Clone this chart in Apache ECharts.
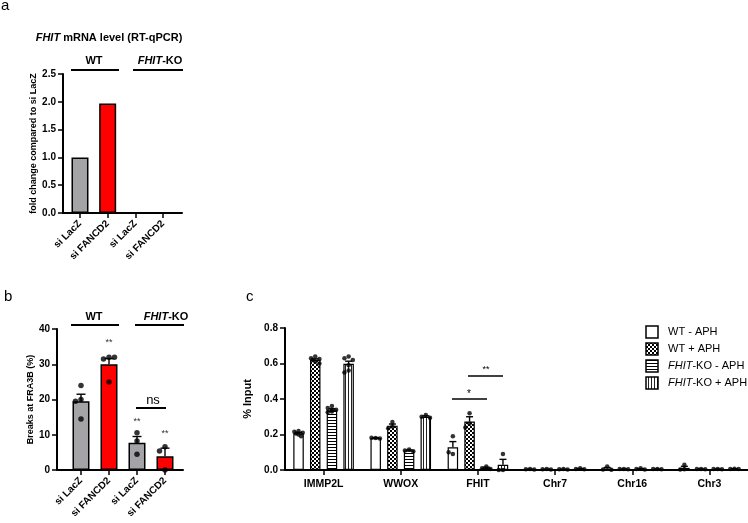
<!DOCTYPE html>
<html><head><meta charset="utf-8">
<script src="https://cdn.jsdelivr.net/npm/echarts@6/dist/echarts.min.js"></script>
<style>html,body{margin:0;padding:0;background:#fff}#c{width:748px;height:523px}</style>
</head><body><div id="c"></div>
<script>
// ---------------- DATA ----------------
const abCategories = ['si LacZ', 'si FANCD2', 'si LacZ', 'si FANCD2'];
const aFoldChange = [1.0, 1.97, 0, 0];
const aYTicks = [0, 0.5, 1.0, 1.5, 2.0, 2.5];

const bBreaksMean = [19.5, 30.0, 7.7, 3.9];
const bBreaksSEM = [2.0, 1.6, 1.8, 2.3];
const bBreaksReplicates = [[24, 20, 19.5, 14.5], [32, 31.5, 32, 25], [10.6, 8.2, 4.5], [6.6, 5.4, 0]];
const bYTicks = [0, 10, 20, 30, 40];

const cCategories = ['IMMP2L', 'WWOX', 'FHIT', 'Chr7', 'Chr16', 'Chr3'];
const cSeriesNames = ['WT - APH', 'WT + APH', 'FHIT-KO - APH', 'FHIT-KO + APH'];
const cWtNoAph = [0.207, 0.18, 0.128, 0.004, 0.008, 0.012];
const cWtAph = [0.621, 0.25, 0.273, 0.004, 0.005, 0.005];
const cKoNoAph = [0.34, 0.11, 0.012, 0.004, 0.006, 0.005];
const cKoAph = [0.598, 0.30, 0.03, 0.006, 0.005, 0.006];
const cWtNoAphSEM = [0.005, 0.002, 0.032, 0.001, 0.006, 0.009];
const cWtAphSEM = [0.005, 0.009, 0.027, 0.001, 0.001, 0.001];
const cKoNoAphSEM = [0.005, 0.003, 0.004, 0.001, 0.002, 0.001];
const cKoAphSEM = [0.015, 0.005, 0.03, 0.002, 0.001, 0.001];
const cWtNoAphReps = [[0.22, 0.215, 0.21, 0.205, 0.2, 0.19], [0.18, 0.182, 0.178], [0.19, 0.09, 0.1], [0.005, 0.004, 0.003], [0.02, 0.003, 0.002], [0.03, 0.004, 0.003]];
const cWtAphReps = [[0.64, 0.63, 0.625, 0.62, 0.61, 0.6], [0.27, 0.245, 0.235], [0.32, 0.26, 0.24], [0.005, 0.004, 0.003], [0.006, 0.005, 0.004], [0.006, 0.005, 0.004]];
const cKoNoAphReps = [[0.36, 0.35, 0.34, 0.335, 0.33, 0.325], [0.115, 0.11, 0.105], [0.02, 0.01, 0.006], [0.005, 0.004, 0.003], [0.01, 0.005, 0.003], [0.006, 0.005, 0.004]];
const cKoAphReps = [[0.64, 0.63, 0.62, 0.59, 0.56, 0.55], [0.31, 0.3, 0.295], [0.09, 0.0, 0.0], [0.01, 0.005, 0.004], [0.006, 0.005, 0.004], [0.007, 0.006, 0.005]];
const cYTicks = [0, 0.2, 0.4, 0.6, 0.8];

// ---------------- STYLE / LAYOUT ----------------
const FONT = 'Arial, "Liberation Sans", Helvetica, sans-serif';
const GRAY = '#a3a3a8', RED = '#ff0000';
const abColors = [GRAY, RED, GRAY, RED];

function pattern(kind) {
  const c = document.createElement('canvas');
  const ctx = c.getContext('2d');
  if (kind === 'check') {
    c.width = 4; c.height = 4;
    ctx.fillStyle = '#fff'; ctx.fillRect(0, 0, 4, 4);
    ctx.fillStyle = '#000'; ctx.fillRect(0, 0, 2, 2); ctx.fillRect(2, 2, 2, 2);
  } else if (kind === 'h') {
    c.width = 3; c.height = 3;
    ctx.fillStyle = '#fff'; ctx.fillRect(0, 0, 3, 3);
    ctx.fillStyle = '#000'; ctx.fillRect(0, 0, 3, 1);
  } else if (kind === 'v') {
    c.width = 3; c.height = 3;
    ctx.fillStyle = '#fff'; ctx.fillRect(0, 0, 3, 3);
    ctx.fillStyle = '#222'; ctx.fillRect(0, 0, 1, 3);
  } else {
    c.width = 2; c.height = 2;
    ctx.fillStyle = '#fff'; ctx.fillRect(0, 0, 2, 2);
  }
  return { image: c, repeat: 'repeat' };
}
const cFills = [pattern('plain'), pattern('check'), pattern('h'), pattern('v')];

// beeswarm-like horizontal spreading of replicate dots (pixel offsets)
function swarm(vals, pxPerUnit, d, maxSteps) {
  const placed = [];
  return vals.map((v, i) => {
    const y = v * pxPerUnit;
    for (let k = 0; k <= maxSteps * 2; k++) {
      const dx = k === 0 ? 0 : (k % 2 ? -1 : 1) * Math.ceil(k / 2) * d;
      if (placed.every(p => Math.hypot(p.x - dx, p.y - y) >= d * 0.95)) {
        placed.push({ x: dx, y }); return dx;
      }
    }
    const dx = ((i % 3) - 1) * d * 0.6;
    placed.push({ x: dx, y }); return dx;
  });
}

const axisLineStyle = { color: '#000', width: 2 };
const tickStyle = { color: '#000', width: 1.5 };
const tickLabel = { color: '#000', fontFamily: FONT, fontWeight: 'bold', fontSize: 10 };

const grids = [
  { left: 63, top: 74, width: 119, height: 139 },   // a
  { left: 57, top: 329, width: 126, height: 141 },  // b
  { left: 285, top: 328, width: 465, height: 142 }  // c
];

function errRender(offsetPx, cap) {
  return function (params, api) {
    const x = api.value(0), m = api.value(1), s = api.value(2);
    const p0 = api.coord([x, m]), p1 = api.coord([x, m + s]);
    const cx = p0[0] + offsetPx;
    const st = { stroke: '#000', lineWidth: 1.4 };
    return {
      type: 'group', children: [
        { type: 'line', shape: { x1: cx, y1: p0[1], x2: cx, y2: p1[1] }, style: st },
        { type: 'line', shape: { x1: cx - cap, y1: p1[1], x2: cx + cap, y2: p1[1] }, style: st }
      ]
    };
  };
}

const series = [];

// Panel a bars
series.push({
  type: 'bar', xAxisIndex: 0, yAxisIndex: 0, barWidth: 17,
  data: aFoldChange.map((v, i) => ({ value: [i, v], itemStyle: { color: abColors[i] } })),
  itemStyle: { borderColor: '#000', borderWidth: 1.5 }, silent: true
});

// Panel b bars, error bars, dots
series.push({
  type: 'bar', xAxisIndex: 1, yAxisIndex: 1, barWidth: 17, z: 2,
  data: bBreaksMean.map((v, i) => ({ value: [i, v], itemStyle: { color: abColors[i] } })),
  itemStyle: { borderColor: '#000', borderWidth: 1.5 }, silent: true
});
series.push({
  type: 'custom', xAxisIndex: 1, yAxisIndex: 1, z: 3, silent: true,
  renderItem: errRender(0, 4.5), encode: { x: 0, y: 1 },
  data: bBreaksMean.map((m, i) => [i, m, bBreaksSEM[i]])
});
{
  const ppu = 141 / 40;
  const dots = [];
  bBreaksReplicates.forEach((reps, i) => {
    const offs = swarm(reps, ppu, 5.5, 1);
    reps.forEach((v, j) => dots.push({ value: [i, v], symbolOffset: [offs[j], 0] }));
  });
  series.push({
    type: 'scatter', xAxisIndex: 1, yAxisIndex: 1, z: 4, silent: true,
    symbol: 'circle', symbolSize: 5.5, itemStyle: { color: '#000' }, data: dots
  });
}

// Panel c
const cMeans = [cWtNoAph, cWtAph, cKoNoAph, cKoAph];
const cSEMs = [cWtNoAphSEM, cWtAphSEM, cKoNoAphSEM, cKoAphSEM];
const cReps = [cWtNoAphReps, cWtAphReps, cKoNoAphReps, cKoAphReps];
const cBarW = 10.5, cGap = 6.2;
cMeans.forEach((arr, s) => {
  series.push({
    type: 'bar', name: cSeriesNames[s], xAxisIndex: 2, yAxisIndex: 2, z: 2, silent: true,
    barWidth: cBarW, barGap: (cGap / cBarW * 100).toFixed(0) + '%',
    itemStyle: { color: cFills[s], borderColor: '#000', borderWidth: 1.2 },
    data: arr
  });
});
cMeans.forEach((arr, s) => {
  const off = (s - 1.5) * (cBarW + cGap);
  series.push({
    type: 'custom', xAxisIndex: 2, yAxisIndex: 2, z: 3, silent: true,
    renderItem: errRender(off, 3.5), encode: { x: 0, y: 1 },
    data: arr.map((m, i) => [i, m, cSEMs[s][i]])
  });
  const ppu = 142 / 0.8;
  const dots = [];
  cReps[s].forEach((reps, i) => {
    const offs = swarm(reps, ppu, 4.2, 1);
    reps.forEach((v, j) => dots.push({ value: [i, v], symbolOffset: [off + offs[j], 0] }));
  });
  series.push({
    type: 'scatter', xAxisIndex: 2, yAxisIndex: 2, z: 4, silent: true,
    symbol: 'circle', symbolSize: 4.5, itemStyle: { color: '#000' }, data: dots
  });
});

// ---------------- GRAPHICS (headers, annotations, legend) ----------------
const g = [];
function txt(x, y, text, opt) {
  g.push(Object.assign({
    type: 'text', x, y, silent: true,
    style: Object.assign({ text, fill: '#000', font: 'bold 11px ' + FONT, align: 'center', verticalAlign: 'middle' }, opt || {})
  }));
}
function rich(x, y, text, size, weight, align) {
  g.push({
    type: 'text', x, y, silent: true,
    style: {
      text, fill: '#000', align: align || 'center', verticalAlign: 'middle',
      font: weight + ' ' + size + 'px ' + FONT,
      rich: { i: { fontStyle: 'italic', fontWeight: weight, fontSize: size, fontFamily: FONT, fill: '#000' },
              n: { fontWeight: weight, fontSize: size, fontFamily: FONT, fill: '#000' } }
    }
  });
}
function hline(x1, x2, y, w) {
  g.push({ type: 'line', silent: true, shape: { x1, y1: y, x2, y2: y }, style: { stroke: '#000', lineWidth: w || 2 } });
}
// panel letters
txt(1, 13, 'a', { font: '15px ' + FONT, align: 'left', verticalAlign: 'bottom' });
txt(4, 304, 'b', { font: '15px ' + FONT, align: 'left', verticalAlign: 'bottom' });
txt(246, 304, 'c', { font: '15px ' + FONT, align: 'left', verticalAlign: 'bottom' });
// panel a title + headers
rich(109, 38, '{i|FHIT}{n| mRNA level (RT-qPCR)}', 11, 'bold');
txt(94, 61, 'WT');
hline(71, 119, 70);
rich(160, 61, '{i|FHIT}{n|-KO}', 11, 'bold');
hline(133, 183, 70);
// panel b headers + annotations
txt(94, 317, 'WT');
hline(71, 119, 325);
rich(166, 317, '{i|FHIT}{n|-KO}', 11, 'bold');
hline(135, 184, 325);
txt(153, 400, 'ns', { font: '13px ' + FONT });
hline(136, 166, 408);
txt(109, 343, '**', { font: '9px ' + FONT, fill: '#333' });
txt(137, 422, '**', { font: '9px ' + FONT, fill: '#333' });
txt(165, 434, '**', { font: '9px ' + FONT, fill: '#333' });
// panel c significance
txt(469, 394, '*', { font: '10px ' + FONT });
hline(452, 487, 399, 1.5);
txt(486, 370, '**', { font: '9px ' + FONT });
hline(468, 503, 376, 1.5);
// legend
const legY = [332, 349, 366, 383];
cSeriesNames.forEach((name, s) => {
  g.push({ type: 'rect', silent: true, shape: { x: 646, y: legY[s] - 6, width: 12, height: 12 },
           style: { fill: cFills[s], stroke: '#000', lineWidth: 1.5 } });
  const t = name.startsWith('FHIT') ? '{i|FHIT}{n|' + name.slice(4) + '}' : '{n|' + name + '}';
  rich(668, legY[s], t, 11, 'normal', 'left');
});

// ---------------- OPTION ----------------
const option = {
  animation: false,
  backgroundColor: '#fff',
  grid: grids,
  xAxis: [
    { gridIndex: 0, type: 'value', min: -0.614, max: 3.686,
      axisLine: { show: true, onZero: false, lineStyle: axisLineStyle }, splitLine: { show: false },
      axisTick: { show: true, length: 5, lineStyle: tickStyle, customValues: [0, 1, 2, 3] },
      axisLabel: Object.assign({ rotate: 45, margin: 9, customValues: [0, 1, 2, 3], formatter: v => abCategories[Math.round(v)] }, tickLabel) },
    { gridIndex: 1, type: 'value', min: -0.857, max: 3.643,
      axisLine: { show: true, onZero: false, lineStyle: axisLineStyle }, splitLine: { show: false },
      axisTick: { show: true, length: 5, lineStyle: tickStyle, customValues: [0, 1, 2, 3] },
      axisLabel: Object.assign({ rotate: 45, margin: 9, customValues: [0, 1, 2, 3], formatter: v => abCategories[Math.round(v)] }, tickLabel) },
    { gridIndex: 2, type: 'category', data: cCategories,
      axisLine: { show: true, lineStyle: axisLineStyle },
      axisTick: { show: true, length: 5, alignWithLabel: true, lineStyle: tickStyle },
      axisLabel: Object.assign({ margin: 9 }, tickLabel, { fontSize: 10.5 }) }
  ],
  yAxis: [
    { gridIndex: 0, type: 'value', min: 0, max: 2.5, interval: 0.5,
      name: 'fold change compared to si LacZ', nameLocation: 'middle', nameGap: 25,
      nameTextStyle: { fontFamily: FONT, fontWeight: 'bold', fontSize: 9, color: '#000' },
      axisLine: { show: true, onZero: false, lineStyle: axisLineStyle }, splitLine: { show: false },
      axisTick: { show: true, length: 5, lineStyle: tickStyle },
      axisLabel: Object.assign({ margin: 7, customValues: aYTicks, formatter: v => v.toFixed(1) }, tickLabel) },
    { gridIndex: 1, type: 'value', min: 0, max: 40, interval: 10,
      name: 'Breaks at FRA3B (%)', nameLocation: 'middle', nameGap: 20,
      nameTextStyle: { fontFamily: FONT, fontWeight: 'bold', fontSize: 9, color: '#000' },
      axisLine: { show: true, onZero: false, lineStyle: axisLineStyle }, splitLine: { show: false },
      axisTick: { show: true, length: 5, lineStyle: tickStyle },
      axisLabel: Object.assign({ margin: 7, customValues: bYTicks }, tickLabel) },
    { gridIndex: 2, type: 'value', min: 0, max: 0.8, interval: 0.2,
      name: '% Input', nameLocation: 'middle', nameGap: 30,
      nameTextStyle: { fontFamily: FONT, fontWeight: 'bold', fontSize: 11, color: '#000' },
      axisLine: { show: true, onZero: false, lineStyle: axisLineStyle }, splitLine: { show: false },
      axisTick: { show: true, length: 5, lineStyle: tickStyle },
      axisLabel: Object.assign({ margin: 7, customValues: cYTicks, formatter: v => v.toFixed(1) }, tickLabel) }
  ],
  graphic: g,
  series
};
const chart = echarts.init(document.getElementById('c'), null, { renderer: 'canvas' });
chart.setOption(option);
</script>
</body></html>
